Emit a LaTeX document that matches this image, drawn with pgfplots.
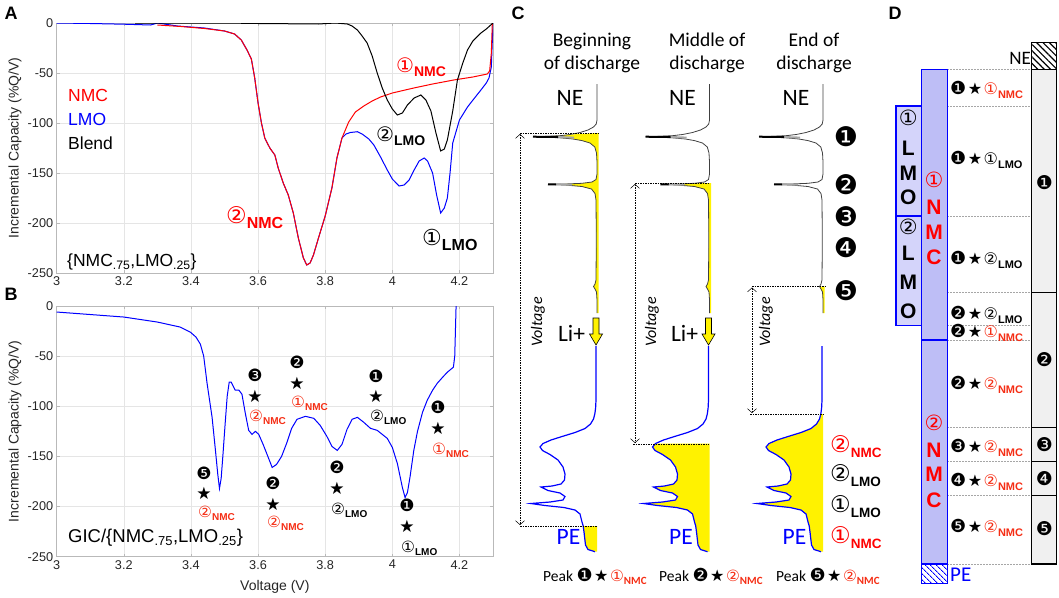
\documentclass[border=0pt]{standalone}
\usepackage{pgfplots}
\pgfplotsset{compat=1.18}
\usepackage{pgfplotstable}
\usepackage{fontspec}
\setmainfont{Liberation Sans}
\newfontfamily\calib{Carlito}
\newfontfamily\dv{DejaVu Sans}
\usetikzlibrary{arrows.meta,patterns.meta}
\definecolor{nmc}{RGB}{245,45,20}
\definecolor{lmofill}{RGB}{212,212,250}
\definecolor{nmcfill}{RGB}{190,190,246}
\newcommand{\fs}[1]{\fontsize{#1}{#1}\selectfont}
\newcommand{\dd}[1]{{\dv #1}}
% circled digit + bold subscript
\newcommand{\cl}[5]{{\dv\fs{#1}#2}\raisebox{#5}{\bfseries\fs{#3}#4}}
% filled digit + star, sizes given
\newcommand{\ds}[3]{{\dv\fs{#2}#1\hspace{1.5pt}\fs{#3}★\hspace{1.5pt}}}

% panel A: LMO, NMC, blend (voltage, %Q/V)
\pgfplotstableread{
v q
3.0 0
3.1 -0.5
3.2 -1.2
3.28 -2
3.30 0
3.31 -0.5
3.36 -3
3.44 -5
3.50 -8
3.53 -11
3.55 -17
3.567 -27
3.58 -36
3.59 -55
3.60 -80
3.61 -100
3.62 -115
3.635 -125
3.65 -132
3.66 -145
3.675 -160
3.69 -172
3.705 -190
3.72 -215
3.735 -235
3.745 -242
3.755 -240
3.765 -232
3.78 -215
3.80 -193
3.82 -165
3.835 -135
3.85 -115
3.862 -111
3.875 -109.5
3.896 -108.7
3.91 -111
3.93 -116
3.945 -122
3.965 -134
3.985 -147
4.0 -156
4.02 -163
4.035 -162
4.05 -157
4.065 -147
4.08 -138
4.095 -135
4.105 -138
4.12 -150
4.132 -172
4.144 -190
4.155 -185
4.164 -175
4.172 -150
4.18 -120
4.2 -97
4.224 -84
4.245 -75
4.264 -67
4.28 -60
4.288 -55
4.295 -44
4.3 0
}\lmoA

\pgfplotstableread{
v q
3.30 -2
3.37 -3.5
3.44 -5.5
3.50 -8
3.53 -11
3.55 -17
3.567 -27
3.58 -36
3.59 -55
3.60 -80
3.61 -100
3.62 -115
3.635 -125
3.65 -132
3.66 -145
3.675 -160
3.69 -172
3.705 -190
3.72 -215
3.735 -235
3.745 -242
3.755 -240
3.765 -232
3.78 -215
3.80 -193
3.82 -165
3.835 -135
3.85 -115
3.87 -99
3.89 -89
3.915 -83
3.94 -78
3.965 -74
4.0 -70
4.064 -65
4.12 -61
4.183 -57
4.24 -54
4.283 -51
4.29 -48
4.295 -30
4.298 0
}\nmcA

\pgfplotstableread{
v q
3.234 0
3.5 0
3.6 -0.5
3.78 -1
3.83 0
3.866 -1
3.88 -3
3.896 -7
3.91 -13
3.925 -20
3.94 -33
3.955 -50
3.97 -65
3.985 -77
4.0 -86
4.015 -92
4.03 -90
4.045 -82
4.065 -75
4.085 -72
4.1 -77
4.115 -88
4.13 -110
4.144 -128
4.155 -126
4.164 -117
4.18 -88
4.194 -57
4.21 -40
4.224 -27
4.24 -18
4.264 -10
4.28 -6
4.3 0
}\blendA

% panel B: GIC of the blend
\pgfplotstableread{
v q
3.0 -6
3.1 -8.5
3.2 -11
3.3 -16
3.368 -21
3.398 -26
3.415 -31
3.428 -38
3.438 -50
3.448 -77
3.463 -111
3.473 -144
3.48 -168
3.485 -182
3.49 -172
3.495 -150
3.502 -117
3.508 -90
3.514 -76
3.52 -76
3.532 -84
3.543 -84
3.552 -88
3.562 -107
3.572 -124
3.582 -128
3.592 -125
3.602 -128
3.615 -138
3.628 -149
3.642 -161
3.655 -158
3.67 -150
3.685 -137
3.70 -122
3.716 -113
3.741 -110
3.766 -112
3.785 -119
3.805 -130
3.82 -140
3.836 -144
3.85 -138
3.865 -123
3.88 -113
3.896 -111
3.915 -116
3.935 -122
3.955 -124
3.97 -128
3.985 -132
4.0 -141
4.015 -157
4.03 -181
4.038 -191
4.045 -186
4.053 -170
4.064 -144
4.075 -125
4.09 -106
4.104 -94
4.12 -84
4.134 -77
4.15 -71
4.164 -66
4.182 -61
4.186 -50
4.188 -25
4.19 0
}\gic

% panel C: sketched NE and PE curves (page pixels, first column)
\pgfplotstableread{
x y
597 84
597 120
596.2 124
593.5 127
588 130
580 132.5
570 134.5
560 135.7
545 136.4
533 136.7
545 137.2
560 137.8
573 139
582 140.6
590 143
594.8 147
596.5 153
597 162
597 174
596 179.5
592 182
582 183.3
565 184
548 184.3
565 185
582 186.5
591.5 189
595 193.5
596 200
596.3 240
596 280
595 284
593.5 286.5
595 289
596.5 292
597 300
597 313
}\necurve

\pgfplotstableread{
x y
596 346
596 400
595.6 408
594.8 414
593.5 419
590.5 424
585 428.5
575 432.5
562 436.5
551 440
543 443.5
540 447
542.5 450.5
550 454.5
558 460
563 467
565 474
564.5 480
561 484
552 486
541 487
548 490.5
560 493
565 496.5
563 500
550 502
531 503.5
545 505.5
564 507.5
575 510
580 514
582 522
583.2 526
584 532
585.5 545
588 549.5
595 551.7
}\pecurve

\pgfplotstableread{
x y
533 136.7
558 137.0
nan nan
548 184.3
556 184.4
}\pkblack
\pgfplotstableread{
x y
558 137.0
574 137.6
nan nan
556 184.4
572 184.7
}\pkgray

\pgfplotsset{mat/.style={
  anchor=south west, scale only axis, width=436.3pt,
  xmin=3, xmax=4.3, ymin=-250, ymax=0,
  xtick={3,3.2,3.4,3.6,3.8,4,4.2}, ytick={-250,-200,-150,-100,-50,0},
  grid=major, major grid style={gray!20, line width=0.5pt},
  axis line style={gray!55, line width=0.6pt},
  tick style={gray!55, line width=0.6pt}, major tick length=3pt, tick align=inside,
  tick label style={font=\fs{12.7}, text=black!85},
  /pgf/number format/assume math mode=true,
  ylabel={Incremental Capacity (\%Q/V)},
  ylabel style={font=\fs{14}, text=black!85, at={(axis description cs:-0.0956,0.5)}, anchor=center},
}}

\newcommand{\annB}[9]{%
  \node[font=\dv\fs{17}] at (#1,#2) {#6};
  \node[font=\dv\fs{17}] at (#1,#3) {★};
  \node[anchor=west, text=#9] at (#4,#5) {\cl{15.5}{#7}{10}{#8}{-3pt}};}

\begin{document}
\begin{tikzpicture}
\useasboundingbox (0pt,0pt) rectangle (1059pt,-597pt);

% ---------- A ----------
\begin{axis}[mat, at={(56.7pt,-273pt)}, height=250pt]
  \addplot[blue, line width=1pt] table[x=v, y=q] {\lmoA};
  \addplot[red, line width=1pt] table[x=v, y=q] {\nmcA};
  \addplot[black, line width=1pt] table[x=v, y=q] {\blendA};
\end{axis}

% ---------- B ----------
\begin{axis}[mat, at={(56.7pt,-556.7pt)}, height=250.7pt,
    xlabel={Voltage (V)},
    xlabel style={font=\fs{14}, text=black!85, at={(axis description cs:0.5,-0.121)}, anchor=center}]
  \addplot[blue, line width=1pt] table[x=v, y=q] {\gic};
\end{axis}

\tikzset{every node/.append style={inner sep=0pt}}

% ---------- C, D and all free text, in page pixels ----------
\begin{axis}[at={(0pt,-597pt)}, anchor=south west, scale only axis,
    width=1059pt, height=597pt, xmin=0, xmax=1059, ymin=0, ymax=597,
    y dir=reverse, hide axis, clip=false]

  % panel letters
  \node[font=\bfseries\fs{18}] at (11,13) {A};
  \node[font=\bfseries\fs{18}] at (11,294) {B};
  \node[font=\bfseries\fs{18}] at (518,13) {C};
  \node[font=\bfseries\fs{18}] at (895,13) {D};

  % A text
  \node[anchor=west, text=red, font=\fs{17.5}] at (68,95) {NMC};
  \node[anchor=west, text=blue, font=\fs{17.5}] at (68,119) {LMO};
  \node[anchor=west, font=\fs{17.5}] at (68,143) {Blend};
  \node[anchor=west, font=\fs{17.5}] at (67,262) {\{NMC\textsubscript{.75},LMO\textsubscript{.25}\}};
  \node[anchor=west, text=red] at (226,218) {\cl{23}{②}{16}{NMC}{-5pt}};
  \node[anchor=west, text=red] at (396,67) {\cl{20}{①}{14}{NMC}{-4pt}};
  \node[anchor=west] at (376,136) {\cl{20}{②}{14}{LMO}{-4pt}};
  \node[anchor=west] at (422,240) {\cl{22}{①}{16}{LMO}{-5pt}};

  % B text
  \node[anchor=west, font=\fs{18.5}] at (68,538) {GIC/\{NMC\textsubscript{.75},LMO\textsubscript{.25}\}};
  \annB{204}{473}{493}{198}{513}{❺}{②}{NMC}{nmc}
  \annB{255}{375}{396}{249}{417}{❸}{②}{NMC}{nmc}
  \annB{273}{483}{504}{267}{523}{❷}{②}{NMC}{nmc}
  \annB{297}{362}{383}{291}{403}{❷}{①}{NMC}{nmc}
  \annB{376}{376}{396}{370}{417}{❶}{②}{LMO}{black}
  \annB{438}{407}{428}{432}{450}{❶}{①}{NMC}{nmc}
  \annB{337}{467}{488}{331}{510}{❷}{②}{LMO}{black}
  \annB{407}{505}{526}{401}{548}{❶}{①}{LMO}{black}

  % C yellow fills
  \addplot[fill=yellow, draw=none, restrict y to domain=133:320] table[x expr=\thisrow{x}, y=y] {\necurve} -- (598.5,313) -- (598.5,133) -- cycle;
  \addplot[fill=yellow, draw=none, restrict y to domain=183:320] table[x expr=\thisrow{x}+112.5, y=y] {\necurve} -- (711,313) -- (711,183) -- cycle;
  \addplot[fill=yellow, draw=none, restrict y to domain=286.5:320] table[x expr=\thisrow{x}+226, y=y] {\necurve} -- (824.5,313) -- (824.5,286.5) -- cycle;
  \addplot[fill=yellow, draw=none, restrict y to domain=526:560] table[x expr=\thisrow{x}, y=y] {\pecurve} -- (597,551.7) -- (597,526) -- cycle;
  \addplot[fill=yellow, draw=none, restrict y to domain=443.5:560] table[x expr=\thisrow{x}+112.5, y=y] {\pecurve} -- (709.5,551.7) -- (709.5,443.5) -- cycle;
  \addplot[fill=yellow, draw=none, restrict y to domain=414:560] table[x expr=\thisrow{x}+226, y=y] {\pecurve} -- (823,551.7) -- (823,414) -- cycle;

  % C curves
  \pgfplotsinvokeforeach{0,112.5,226}{
    \addplot[black!75, line width=0.8pt] table[x expr=\thisrow{x}+#1, y=y] {\necurve};
    \addplot[gray!70, line width=2pt, unbounded coords=jump] table[x expr=\thisrow{x}+#1, y=y] {\pkgray};
    \addplot[black, line width=2pt, unbounded coords=jump] table[x expr=\thisrow{x}+#1, y=y] {\pkblack};
    \addplot[blue, line width=1.2pt] table[x expr=\thisrow{x}+#1, y=y] {\pecurve};
    \node[font=\calib\fs{23.5}] at (570+#1,98) {NE};
    \node[text=blue, font=\calib\fs{23.5}] at (568.5+#1,537) {PE};
  }

  % C dotted levels and voltage arrows
  \addplot[black, line width=0.5pt, dash pattern=on 1.5pt off 1pt] coordinates {(520,133)(598,133)};
  \addplot[black, line width=0.5pt, dash pattern=on 1.5pt off 1pt] coordinates {(520,526)(597,526)};
  \addplot[black, line width=0.5pt, dash pattern=on 1.5pt off 1pt] coordinates {(635,183.3)(710,183.3)};
  \addplot[black, line width=0.5pt, dash pattern=on 1.5pt off 1pt] coordinates {(633,444)(709,444)};
  \addplot[black, line width=0.5pt, dash pattern=on 1.5pt off 1pt] coordinates {(752,286.7)(826,286.7)};
  \addplot[black, line width=0.5pt, dash pattern=on 1.5pt off 1pt] coordinates {(750,414)(823,414)};
  \addplot[black, line width=0.5pt, dash pattern=on 1.5pt off 1pt,
    {Straight Barb[length=4pt,width=9pt]}-{Straight Barb[length=4pt,width=9pt]}] coordinates {(520,134)(520,525)};
  \addplot[black, line width=0.5pt, dash pattern=on 1.5pt off 1pt,
    {Straight Barb[length=4pt,width=9pt]}-{Straight Barb[length=4pt,width=9pt]}] coordinates {(635,184)(635,443)};
  \addplot[black, line width=0.5pt, dash pattern=on 1.5pt off 1pt,
    {Straight Barb[length=4pt,width=9pt]}-{Straight Barb[length=4pt,width=9pt]}] coordinates {(752,287.5)(752,413)};
  \node[rotate=90, font=\calib\itshape\fs{16}] at (538,322) {Voltage};
  \node[rotate=90, font=\calib\itshape\fs{16}] at (652,322) {Voltage};
  \node[rotate=90, font=\calib\itshape\fs{16}] at (766,322) {Voltage};

  % Li+ arrows
  \addplot[fill=yellow, draw=black, line width=0.6pt] coordinates {(593,318)(599,318)(599,334)(602.5,334)(596,345)(589.5,334)(593,334)} -- cycle;
  \addplot[fill=yellow, draw=black, line width=0.6pt] coordinates {(705.5,318)(711.5,318)(711.5,334)(715,334)(708.5,345)(702,334)(705.5,334)} -- cycle;
  \node[font=\calib\fs{23.5}] at (571.5,333) {Li+};
  \node[font=\calib\fs{23.5}] at (684.5,333) {Li+};

  % C titles
  \node[align=center, font=\calib\fs{19.5}] at (592,53) {Beginning\\[3pt]of discharge};
  \node[align=center, font=\calib\fs{19.5}] at (707,53) {Middle of\\[3pt]discharge};
  \node[align=center, font=\calib\fs{19.5}] at (814,53) {End of\\[3pt]discharge};

  % C right labels
  \node[font=\dv\fs{27}] at (846,137) {❶};
  \node[font=\dv\fs{27}] at (846,185) {❷};
  \node[font=\dv\fs{27}] at (846,217) {❸};
  \node[font=\dv\fs{27}] at (846,248) {❹};
  \node[font=\dv\fs{27}] at (846,291) {❺};
  \node[anchor=west, text=red] at (830,447) {\cl{23}{②}{13.5}{NMC}{-5pt}};
  \node[anchor=west] at (830,476) {\cl{23}{②}{13.5}{LMO}{-5pt}};
  \node[anchor=west] at (830,507) {\cl{23}{①}{13.5}{LMO}{-5pt}};
  \node[anchor=west, text=red] at (830,538) {\cl{23}{①}{13.5}{NMC}{-5pt}};

  % C bottom labels
  \node[anchor=west, font=\calib\fs{15.5}] at (543,576) {Peak \ds{❶}{18}{16}\textcolor{nmc}{\cl{15.5}{①}{11}{NMC}{-3pt}}};
  \node[anchor=west, font=\calib\fs{15.5}] at (659,576) {Peak \ds{❷}{18}{16}\textcolor{nmc}{\cl{15.5}{②}{11}{NMC}{-3pt}}};
  \node[anchor=west, font=\calib\fs{15.5}] at (776,576) {Peak \ds{❺}{18}{16}\textcolor{nmc}{\cl{15.5}{②}{11}{NMC}{-3pt}}};

  % ---------- D ----------
  \pgfplotsinvokeforeach{69.3,106,216,292.7,325.7,340,427.7,461.7,495.7,564}{
    \addplot[gray!70, line width=0.6pt, dash pattern=on 1.5pt off 1.5pt] coordinates {(947.3,#1)(1031.7,#1)};
  }
  \addplot[draw=black, line width=1.2pt, pattern={Lines[angle=-45,distance=4.5pt,line width=1.2pt]}, pattern color=black]
    coordinates {(1031.7,42.7)(1056.7,42.7)(1056.7,69.3)(1031.7,69.3)} -- cycle;
  \addplot[draw=black, fill=black!6, line width=1.2pt] coordinates {(1031.7,69.3)(1056.7,69.3)(1056.7,292.7)(1031.7,292.7)} -- cycle;
  \addplot[draw=black, fill=black!6, line width=1.2pt] coordinates {(1031.7,292.7)(1056.7,292.7)(1056.7,427.7)(1031.7,427.7)} -- cycle;
  \addplot[draw=black, fill=black!6, line width=1.2pt] coordinates {(1031.7,427.7)(1056.7,427.7)(1056.7,461.7)(1031.7,461.7)} -- cycle;
  \addplot[draw=black, fill=black!6, line width=1.2pt] coordinates {(1031.7,461.7)(1056.7,461.7)(1056.7,495.7)(1031.7,495.7)} -- cycle;
  \addplot[draw=black, fill=black!6, line width=1.2pt] coordinates {(1031.7,495.7)(1056.7,495.7)(1056.7,564)(1031.7,564)} -- cycle;

  \addplot[draw=blue, fill=nmcfill, line width=1.2pt] coordinates {(921.7,69.3)(947.3,69.3)(947.3,340)(921.7,340)} -- cycle;
  \addplot[draw=blue, fill=nmcfill, line width=1.2pt] coordinates {(921.7,340)(947.3,340)(947.3,564)(921.7,564)} -- cycle;
  \addplot[draw=blue, line width=1.2pt, pattern={Lines[angle=-45,distance=4pt,line width=1pt]}, pattern color=blue]
    coordinates {(921.7,564)(947.3,564)(947.3,583.3)(921.7,583.3)} -- cycle;
  \addplot[draw=blue, fill=lmofill, line width=1.2pt] coordinates {(896,106)(921.7,106)(921.7,216)(896,216)} -- cycle;
  \addplot[draw=blue, fill=lmofill, line width=1.2pt] coordinates {(896,216)(921.7,216)(921.7,325.7)(896,325.7)} -- cycle;

  \node[anchor=east, font=\calib\fs{19}] at (1031,58) {NE};
  \node[anchor=west, text=blue, font=\calib\fs{21}] at (950,575) {PE};

  \node[font=\dv\fs{21}] at (908.3,118) {①};
  \node[font=\bfseries\fs{21}] at (908.3,148) {L};
  \node[font=\bfseries\fs{21}] at (908.3,173) {M};
  \node[font=\bfseries\fs{21}] at (908.3,197) {O};
  \node[font=\dv\fs{21}] at (908.3,227) {②};
  \node[font=\bfseries\fs{21}] at (908.3,253) {L};
  \node[font=\bfseries\fs{21}] at (908.3,282) {M};
  \node[font=\bfseries\fs{21}] at (908.3,311.7) {O};

  \node[text=red, font=\dv\fs{21}] at (934,180) {①};
  \node[text=red, font=\bfseries\fs{21}] at (934,207) {N};
  \node[text=red, font=\bfseries\fs{21}] at (934,232) {M};
  \node[text=red, font=\bfseries\fs{21}] at (934,257) {C};
  \node[text=red, font=\dv\fs{21}] at (934,423) {②};
  \node[text=red, font=\bfseries\fs{21}] at (934,450) {N};
  \node[text=red, font=\bfseries\fs{21}] at (934,474) {M};
  \node[text=red, font=\bfseries\fs{21}] at (934,500) {C};

  \node[font=\dv\fs{19}] at (1044.5,183) {❶};
  \node[font=\dv\fs{19}] at (1044.5,360) {❷};
  \node[font=\dv\fs{19}] at (1044.5,445) {❸};
  \node[font=\dv\fs{19}] at (1044.5,479) {❹};
  \node[font=\dv\fs{19}] at (1044.5,529) {❺};

  \node[anchor=west] at (950,90) {\ds{❶}{18}{16}\textcolor{nmc}{\cl{16}{①}{11}{NMC}{-3.5pt}}};
  \node[anchor=west] at (950,160) {\ds{❶}{18}{16}\cl{16}{①}{11}{LMO}{-3.5pt}};
  \node[anchor=west] at (950,260) {\ds{❶}{18}{16}\cl{16}{②}{11}{LMO}{-3.5pt}};
  \node[anchor=west] at (950,315) {\ds{❷}{18}{16}\cl{16}{②}{11}{LMO}{-3.5pt}};
  \node[anchor=west] at (950,333) {\ds{❷}{18}{16}\textcolor{nmc}{\cl{16}{①}{11}{NMC}{-3.5pt}}};
  \node[anchor=west] at (950,385) {\ds{❷}{18}{16}\textcolor{nmc}{\cl{16}{②}{11}{NMC}{-3.5pt}}};
  \node[anchor=west] at (950,448) {\ds{❸}{18}{16}\textcolor{nmc}{\cl{16}{②}{11}{NMC}{-3.5pt}}};
  \node[anchor=west] at (950,482) {\ds{❹}{18}{16}\textcolor{nmc}{\cl{16}{②}{11}{NMC}{-3.5pt}}};
  \node[anchor=west] at (950,528) {\ds{❺}{18}{16}\textcolor{nmc}{\cl{16}{②}{11}{NMC}{-3.5pt}}};
\end{axis}
\end{tikzpicture}
\end{document}
